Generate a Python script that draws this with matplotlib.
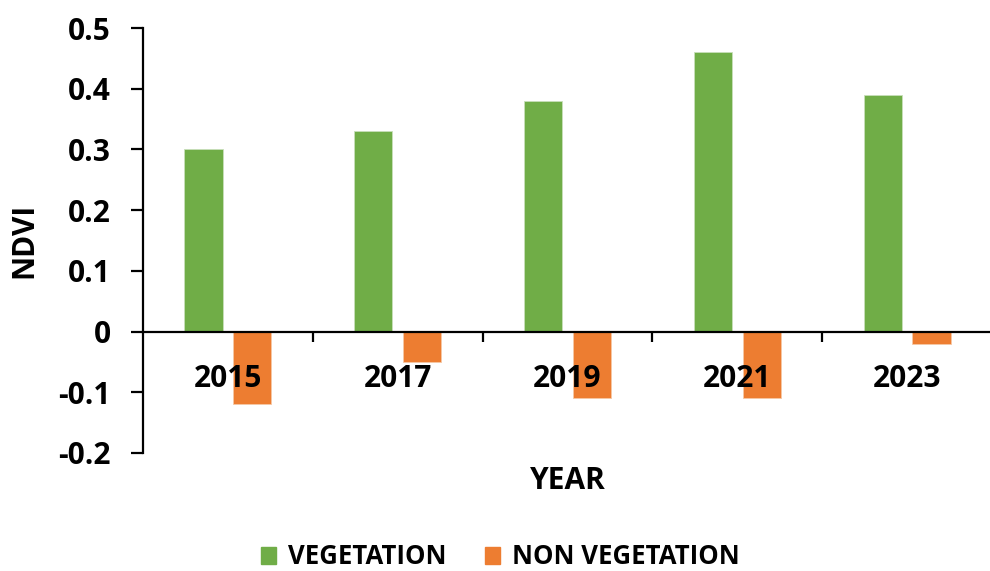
import matplotlib.pyplot as plt
import numpy as np
from matplotlib.patches import Patch

years = ['2015', '2017', '2019', '2021', '2023']
vegetation = [0.30, 0.33, 0.38, 0.46, 0.39]
non_vegetation = [-0.12, -0.05, -0.11, -0.11, -0.02]

green = '#70AD47'
orange = '#ED7D31'

plt.rcParams['font.family'] = ['Open Sans', 'DejaVu Sans']
plt.rcParams['font.weight'] = 'bold'

fig = plt.figure(figsize=(9.9, 5.71), dpi=100)
ax = fig.add_axes([143/990, 118/571, 849/990, 425/571])

x = np.arange(len(years))
w = 0.225
off = 0.144
ax.bar(x - off, vegetation, w, color=green, edgecolor='#c8dfba', linewidth=0.6)
ax.bar(x + off, non_vegetation, w, color=orange, edgecolor='#f6c8a6', linewidth=0.6)

ax.set_xlim(-0.5, 4.5)
ax.set_ylim(-0.2, 0.5)
ax.set_yticks([-0.2, -0.1, 0, 0.1, 0.2, 0.3, 0.4, 0.5])
ax.set_yticklabels(['-0.2', '-0.1', '0', '0.1', '0.2', '0.3', '0.4', '0.5'])

ax.spines['top'].set_visible(False)
ax.spines['right'].set_visible(False)
ax.spines['bottom'].set_position(('data', 0))
ax.spines['left'].set_linewidth(1.6)
ax.spines['bottom'].set_linewidth(1.6)

ax.set_xticks(x)
ax.set_xticklabels(years)
ax.set_xticks([0.5, 1.5, 2.5, 3.5, 4.5], minor=True)
ax.tick_params(axis='x', which='major', length=0, pad=23, labelsize=21.5)
ax.tick_params(axis='x', which='minor', direction='out', length=7, width=1.6)
ax.tick_params(axis='y', direction='out', length=9, width=1.6, pad=14, labelsize=21.5)

ax.set_ylabel('NDVI', fontsize=21.5, fontweight='bold')
ax.yaxis.set_label_coords((39 - 143)/849, 0.5)
fig.text(568/990, 1 - 481/571, 'YEAR', ha='center', va='center', fontsize=21.5, fontweight='bold')

handles = [Patch(color=green, label='VEGETATION'), Patch(color=orange, label='NON VEGETATION')]
fig.legend(handles=handles, loc='center', bbox_to_anchor=(500/990, 1 - 557/571), ncol=2, frameon=False,
           fontsize=18.5, handlelength=0.6, handleheight=0.6, handletextpad=0.45, columnspacing=1.5)

plt.savefig('out.png', dpi=100)
